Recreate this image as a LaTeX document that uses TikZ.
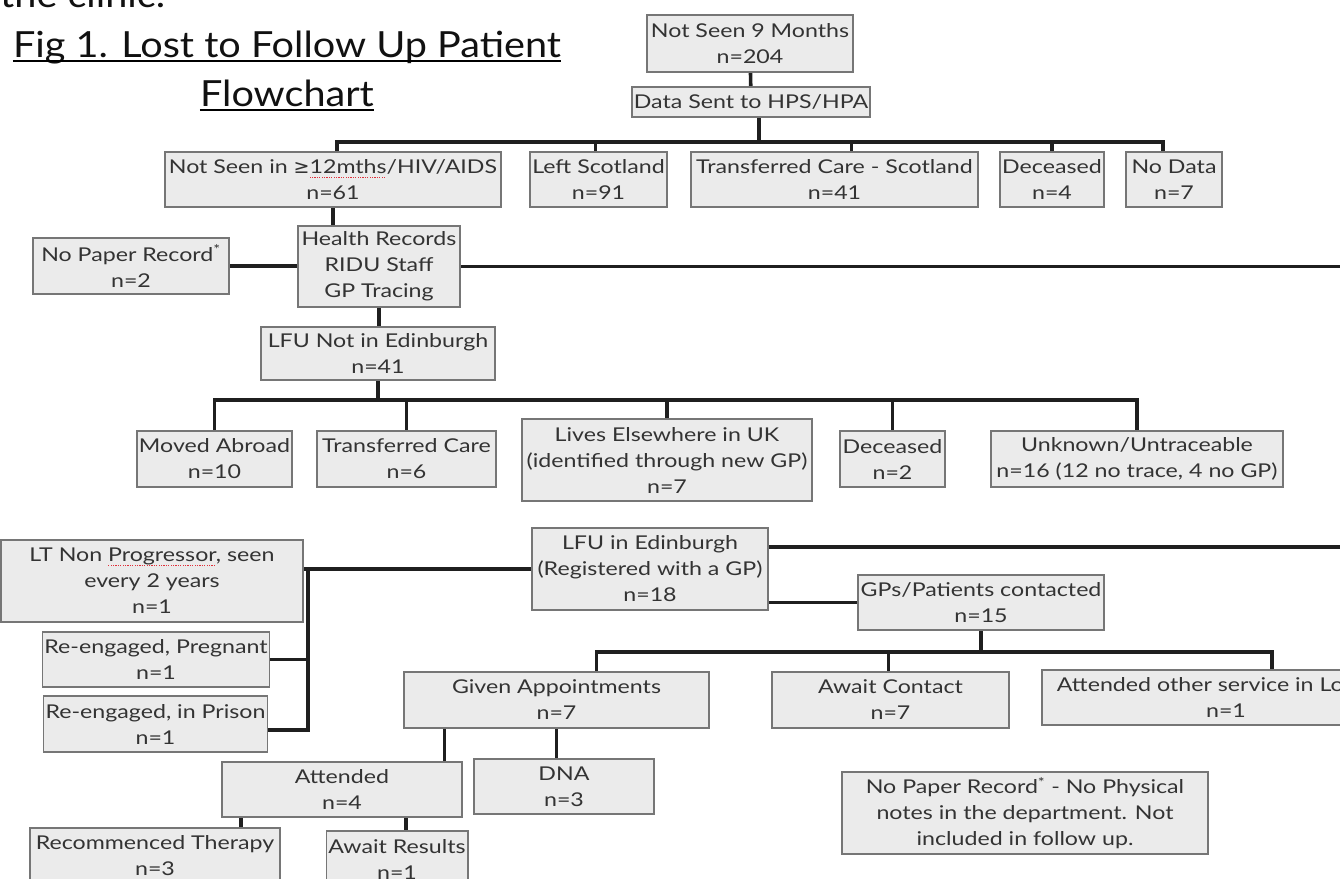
\documentclass[tikz,border=0pt]{standalone}
\usepackage{fontspec}
\setmainfont{Lato}
\newfontfamily\boxfont{Lato}[FakeStretch=1.22]
\newfontfamily\headfont{Lato}[FakeStretch=1.1]
\newfontfamily\symfont{DejaVu Sans}
\usepackage{tikz}
\usetikzlibrary{positioning,calc,backgrounds}
\definecolor{boxfill}{HTML}{EBEBEB}
\definecolor{boxline}{HTML}{767676}
\definecolor{boxtext}{HTML}{333333}
\definecolor{titletext}{HTML}{111111}
\definecolor{spell}{HTML}{E0303A}
% red spell-check mark under a word
\newlength\typowd
\newcommand{\typo}[1]{\settowidth\typowd{#1}\rlap{\textcolor{spell}{\raisebox{-0.45ex}{\leaders\hbox{\rule{1.2pt}{1.2pt}\kern1.2pt}\hskip\typowd}}}#1}
\tikzset{
  box/.style={draw=boxline,fill=boxfill,line width=1.8pt,align=center,text=boxtext,
    font=\boxfont\fontsize{19}{26}\selectfont,inner sep=2pt},
  wh/.style 2 args={minimum width=#1pt,minimum height=#2pt},
  link/.style={line width=3.6pt,draw=black!88,line cap=rect},
  heading/.style={font=\headfont\fontsize{36}{40}\selectfont,text=titletext,inner sep=0pt},
}

\begin{document}
\begin{tikzpicture}[x=1pt,y=-1pt]
  \useasboundingbox (0,0) rectangle (1340,878);

  % title
  \node[heading,anchor=base west] (clinic) at (0,8) {the clinic.};
  \node[heading,anchor=base] (title1) at (287,57) {Fig 1. Lost to Follow Up Patient};
  \node[heading,anchor=base] (title2) at (287,106) {Flowchart};
  \draw[line width=2pt] ([yshift=-4pt]title1.base west) -- ([yshift=-4pt]title1.base east);
  \draw[line width=2pt] ([yshift=-4pt]title2.base west) -- ([yshift=-4pt]title2.base east);

  % top
  \node[box,wh={206}{57}] (notseen) at (750,43.5) {Not Seen 9 Months\\n=204};
  \node[box,wh={238}{30}] (datasent) at (751,102) {Data Sent to HPS/HPA};
  \node[box,wh={336}{55}] (lfu12) at (333,179.5) {Not Seen in {\symfont ≥}\typo{12mths}/HIV/AIDS\\n=61};
  \node[box,wh={137}{55}] (leftsco) at (598.5,179.5) {Left Scotland\\n=91};
  \node[box,wh={287}{55}] (transco) at (834.5,179.5) {Transferred Care - Scotland\\n=41};
  \node[box,wh={104}{55}] (deca) at (1052,179.5) {Deceased\\n=4};
  \node[box,wh={96}{55}] (nodata) at (1174,179.5) {No Data\\n=7};

  % tracing
  \node[box,wh={162}{81}] (trace) at (379,266.5) {Health Records\\RIDU Staff\\GP Tracing};
  \node[box,wh={196}{56}] (nopaper) at (131,266) {No Paper Record\textsuperscript{*}\\n=2};
  \node[box,wh={234}{53}] (notedin) at (378,353.5) {LFU Not in Edinburgh\\n=41};

  \node[box,wh={153}{56}] (abroad) at (214.5,459) {Moved Abroad\\n=10};
  \node[box,wh={179}{56}] (transcare) at (406.5,459) {Transferred Care\\n=6};
  \node[box,wh={290}{82}] (elsewhere) at (667,460) {Lives Elsewhere in UK\\(identified through new GP)\\n=7};
  \node[box,wh={105}{56}] (decb) at (892.5,459) {Deceased\\n=2};
  \node[box,wh={292}{56}] (untrace) at (1137,459) {Unknown/Untraceable\\n=16 (12 no trace, 4 no GP)};

  % Edinburgh
  \node[box,wh={236}{82}] (inedin) at (650,569) {LFU in Edinburgh\\(Registered with a GP)\\n=18};
  \node[box,wh={302}{82}] (ltnp) at (152,581) {LT Non \typo{Progressor}, seen\\every 2 years\\n=1};
  \node[box,wh={222}{55}] (pregnant) at (156,659.5) {Re-engaged, Pregnant\\n=1};
  \node[box,wh={223}{56}] (prison) at (155.5,724) {Re-engaged, in Prison\\n=1};
  \node[box,wh={246}{55}] (contacted) at (981,602.5) {GPs/Patients contacted\\n=15};

  \node[box,wh={305}{56}] (appts) at (556.5,700) {Given Appointments\\n=7};
  \node[box,wh={237}{56}] (awaitc) at (890.5,700) {Await Contact\\n=7};
  \node[box,wh={368}{55}] (otherserv) at (1226,697.5) {Attended other service in Lo\phantom{thian}\\n=1};

  \node[box,wh={240}{55}] (attended) at (342,789.5) {Attended\\n=4};
  \node[box,wh={180}{55}] (dna) at (564,786.5) {DNA\\n=3};
  \node[box,wh={250}{56}] (therapy) at (155,856) {Recommenced Therapy\\n=3};
  \node[box,wh={140}{56}] (results) at (397,859) {Await Results\\n=1};
  \node[box,wh={366}{82}] (footnote) at (1025,813) {No Paper Record\textsuperscript{*} - No Physical\\notes in the department. Not\\included in follow up.};

  \coordinate (bus1) at (0,142);
  \coordinate (bus2) at (0,400);
  \coordinate (bus3) at (0,652);
  \coordinate (edge1) at (1340,267);
  \coordinate (edge2) at (1340,547);
  \coordinate (split) at (308,569);

  \begin{scope}[on background layer]
    \draw[link] (notseen) -- (datasent);
    \draw[link] ([xshift=8pt]datasent.south) -- ([xshift=8pt]datasent.south |- bus1);
    \draw[link] ([xshift=4pt]lfu12.north |- bus1) -- ([xshift=-11pt]nodata.north |- bus1);
    \foreach \nd/\s in {lfu12/4,leftsco/-3,transco/17,deca/0,nodata/-11}
      \draw[link] ([xshift=\s pt]\nd.north) -- ([xshift=\s pt]\nd.north |- bus1);

    \draw[link] (lfu12.south) -- (lfu12.south |- trace.north);
    \draw[link] (nopaper.east) -- (nopaper.east -| trace.west);
    \draw[link] (trace.east) -- (trace.east -| edge1);
    \draw[link] (trace.south) -- (trace.south |- notedin.north);

    \draw[link] (notedin.south) -- (notedin.south |- bus2);
    \draw[link] (abroad.north |- bus2) -- (untrace.north |- bus2);
    \foreach \nd in {abroad,transcare,elsewhere,decb,untrace}
      \draw[link] (\nd.north) -- (\nd.north |- bus2);

    \draw[link] (inedin.west) -- (inedin.west -| ltnp.east);
    \draw[link] (split) |- (pregnant.east);
    \draw[link] (split) |- ([yshift=-6pt]prison.east);
    \draw[link] ([yshift=22pt]inedin.east) -- ([yshift=22pt]inedin.east -| edge2);
    \draw[link] (contacted.west) -- (contacted.west -| inedin.east);

    \draw[link] (contacted.south) -- (contacted.south |- bus3);
    \draw[link] ([xshift=40pt]appts.north |- bus3) -- ([xshift=46pt]otherserv.north |- bus3);
    \foreach \nd/\s in {appts/40,awaitc/-2,otherserv/46}
      \draw[link] ([xshift=\s pt]\nd.north) -- ([xshift=\s pt]\nd.north |- bus3);

    \draw[link] ([xshift=-112pt]appts.south) -- ([xshift=-112pt]appts.south |- attended.north);
    \draw[link] (appts.south) -- (appts.south |- dna.north);
    \draw[link] ([xshift=-101pt]attended.south) -- ([xshift=-101pt]attended.south |- therapy.north);
    \draw[link] ([xshift=64pt]attended.south) -- ([xshift=64pt]attended.south |- results.north);
  \end{scope}
\end{tikzpicture}
\end{document}
